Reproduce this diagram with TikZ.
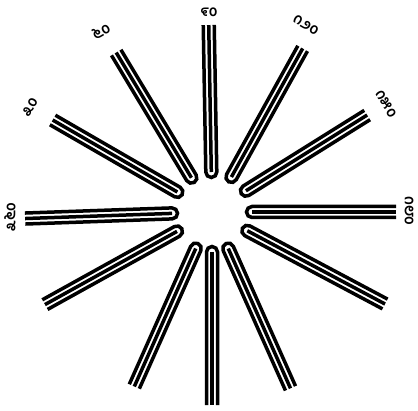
\documentclass[tikz,border=0pt]{standalone}
\usepackage{fontspec}
\newfontfamily\knfont[Script=Kannada]{Hind Mysuru}
\newcommand\sunray[3]{%
  \begin{scope}[shift={(c)}, rotate=#2]
    \draw[raystroke] (#3,5.5) -- (40,5.5) arc[start angle=90,end angle=270,radius=5.5] -- (#3,-5.5);
    \draw[raystroke] (40,0) -- (#3,0);
    \coordinate (#1) at (#3,0);
  \end{scope}}
\begin{document}
\begin{tikzpicture}[x=1pt,y=1pt,
  raystroke/.style={line width=3.5pt, draw=black},
  lbl/.style={font=\knfont\bfseries\fontsize{15}{15}\selectfont, inner sep=0pt}]
\fill[white] (0,0) rectangle (418,410);
\useasboundingbox (0,0) rectangle (418,410);
\coordinate (c) at (212,198);
\sunray{r0}{0}{184}
\sunray{r30}{32}{183}
\sunray{r60}{61}{187}
\sunray{r90}{91}{187}
\sunray{r120}{121}{186}
\sunray{r150}{150}{184}
\sunray{r180}{182}{187}
\sunray{r210}{209}{191}
\sunray{r240}{246}{191}
\sunray{r270}{270}{193}
\sunray{r300}{294}{193}
\sunray{r330}{332}{196}
\node[lbl, rotate=-90] (l0) at (409,199) {೧೮೦};
\node[lbl, rotate=-60] (l30) at (386,306) {೧೫೦};
\node[lbl, rotate=-30] (l60) at (306,385) {೧೨೦};
\node[lbl] (l90) at (209,398) {೯೦};
\node[lbl, rotate=30] (l120) at (101,379) {೬೦};
\node[lbl, rotate=60] (l150) at (30,303) {೩೦};
\node[lbl, rotate=90] (l180) at (10,193) {೩೬೦};
\end{tikzpicture}
\end{document}
